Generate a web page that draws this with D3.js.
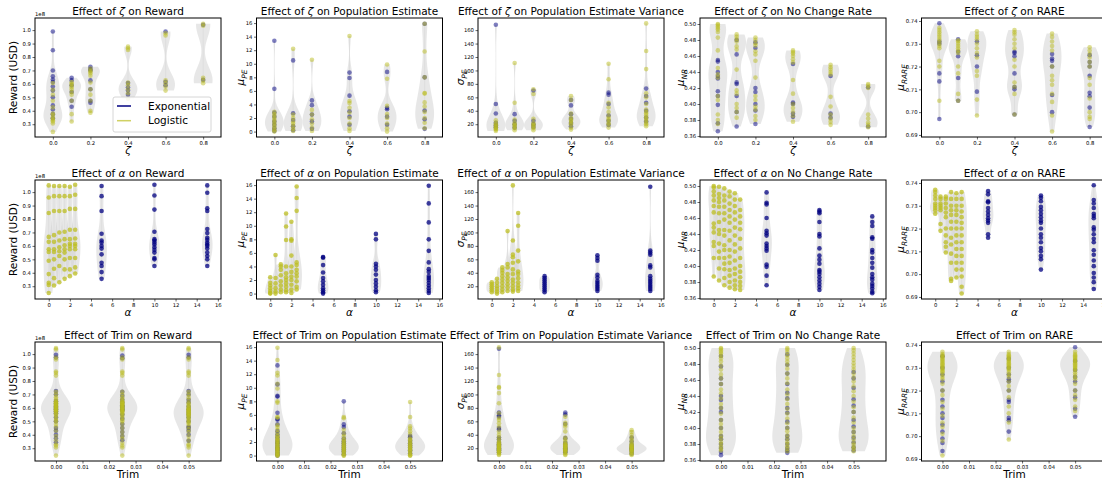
<!DOCTYPE html>
<html>
<head>
<meta charset="utf-8">
<script src="https://cdn.jsdelivr.net/npm/d3@7"></script>
<style>
body { margin: 0; background: #fff; }
svg text { font-family: "DejaVu Sans", sans-serif; fill: #000; }
</style>
</head>
<body>
<svg id="chart" width="1102" height="485"></svg>
<script>
// categories
const zetaCats = [0, 0.1, 0.2, 0.4, 0.6, 0.8];
const alphaCats = [0, 0.5, 1, 1.5, 2, 2.5, 5, 10, 15];
const trimCats = [0, 0.025, 0.05];

// tick labels
const zetaTicks = [0, 0.2, 0.4, 0.6, 0.8];
const alphaTicks = [0, 2, 4, 6, 8, 10, 12, 14, 16];
const trimTicks = [0, 0.01, 0.02, 0.03, 0.04, 0.05];
const rewardTicks = [0.3, 0.4, 0.5, 0.6, 0.7, 0.8, 0.9, 1.0];
const peTicks = [0, 2, 4, 6, 8, 10, 12, 14, 16];
const pevTicks = [20, 40, 60, 80, 100, 120, 140, 160];
const nrTicks = [0.36, 0.38, 0.40, 0.42, 0.44, 0.46, 0.48, 0.50];
const rareTicks = [0.69, 0.70, 0.71, 0.72, 0.73, 0.74];

// ---- reward (x 1e8 USD) ----
const rewardZetaExp = [
  [0.99, 0.85, 0.70, 0.656, 0.633, 0.614, 0.58, 0.55, 0.50, 0.44, 0.41, 0.375, 0.345],
  [0.646, 0.626, 0.59, 0.54, 0.475, 0.43],
  [0.727, 0.71, 0.70, 0.626, 0.56, 0.475, 0.46],
  [0.606, 0.575, 0.55, 0.52],
  [0.99, 0.615, 0.59],
  [1.04, 0.63]
];
const rewardZetaLog = [
  [0.606, 0.556, 0.52, 0.475, 0.425, 0.38, 0.37, 0.35, 0.34, 0.33, 0.32, 0.305, 0.243],
  [0.613, 0.60, 0.59, 0.575, 0.56, 0.54, 0.52, 0.475, 0.375, 0.32],
  [0.714, 0.70, 0.69, 0.68, 0.66, 0.61, 0.56, 0.52, 0.475, 0.40, 0.385],
  [0.877, 0.865, 0.852, 0.61, 0.59, 0.56, 0.53, 0.49],
  [0.977, 0.96, 0.626, 0.605, 0.58, 0.55],
  [1.047, 1.032, 0.646, 0.626, 0.605]
];
const rewardAlphaExp = [[], [], [], [], [], [],
  [1.045, 0.97, 0.86, 0.69, 0.64, 0.625, 0.60, 0.58, 0.537, 0.475, 0.45, 0.405, 0.355],
  [1.055, 0.975, 0.87, 0.705, 0.65, 0.64, 0.625, 0.61, 0.59, 0.57, 0.55, 0.51, 0.50, 0.45],
  [1.05, 0.995, 0.88, 0.86, 0.725, 0.695, 0.66, 0.645, 0.625, 0.61, 0.60, 0.58, 0.55, 0.525, 0.50, 0.45]
];
const rewardAlphaLog = [
  [1.05, 0.96, 0.845, 0.667, 0.63, 0.575, 0.555, 0.49, 0.39, 0.325, 0.31, 0.25],
  [1.045, 0.97, 0.86, 0.68, 0.63, 0.575, 0.555, 0.50, 0.43, 0.36, 0.305],
  [1.045, 0.97, 0.86, 0.70, 0.64, 0.59, 0.56, 0.525, 0.45, 0.33],
  [1.045, 0.97, 0.86, 0.705, 0.65, 0.605, 0.575, 0.55, 0.50, 0.425, 0.355],
  [1.04, 0.97, 0.875, 0.72, 0.65, 0.615, 0.60, 0.575, 0.51, 0.425, 0.375],
  [1.055, 0.98, 0.875, 0.72, 0.655, 0.615, 0.60, 0.575, 0.51, 0.44, 0.395],
  [], [], []
];
const rewardTrimExp = [
  [0.995, 0.975, 0.725, 0.70, 0.65, 0.63, 0.61, 0.60, 0.59, 0.575, 0.56, 0.53, 0.50, 0.45, 0.43, 0.40, 0.375, 0.345],
  [0.99, 0.97, 0.72, 0.69, 0.66, 0.64, 0.62, 0.61, 0.60, 0.59, 0.58, 0.55, 0.52, 0.48, 0.45, 0.42, 0.39, 0.36],
  [0.995, 0.975, 0.725, 0.70, 0.66, 0.64, 0.61, 0.59, 0.57, 0.55, 0.53, 0.50, 0.46, 0.45, 0.43, 0.40, 0.355]
];
const rewardTrimLog = [
  [1.045, 1.035, 0.975, 0.96, 0.87, 0.86, 0.84, 0.72, 0.70, 0.68, 0.665, 0.65, 0.645, 0.64, 0.635, 0.63, 0.625, 0.62, 0.615, 0.61, 0.605, 0.60, 0.595, 0.59, 0.585, 0.58, 0.575, 0.57, 0.56, 0.55, 0.54, 0.525, 0.51, 0.50, 0.48, 0.46, 0.43, 0.39, 0.36, 0.33, 0.32, 0.305, 0.245],
  [1.045, 1.035, 0.975, 0.96, 0.87, 0.86, 0.84, 0.72, 0.70, 0.68, 0.665, 0.65, 0.645, 0.64, 0.635, 0.63, 0.625, 0.62, 0.615, 0.61, 0.605, 0.60, 0.595, 0.59, 0.585, 0.58, 0.575, 0.57, 0.56, 0.55, 0.54, 0.525, 0.51, 0.50, 0.48, 0.45, 0.42, 0.39, 0.37, 0.34, 0.32, 0.305, 0.245],
  [1.045, 1.035, 0.975, 0.96, 0.87, 0.86, 0.84, 0.72, 0.70, 0.68, 0.66, 0.64, 0.63, 0.62, 0.61, 0.60, 0.595, 0.59, 0.585, 0.58, 0.575, 0.57, 0.565, 0.56, 0.555, 0.55, 0.545, 0.54, 0.53, 0.52, 0.51, 0.50, 0.49, 0.48, 0.46, 0.44, 0.42, 0.39, 0.36, 0.33, 0.32, 0.305, 0.245]
];

// ---- population estimate mean ----
const peZetaExp = [
  [13.4, 6.3, 2.8, 2.2, 1.5, 1.0, 0.5, 0.1],
  [10.5, 2.7, 1.7, 0.8, 0.2],
  [4.6, 3.9, 2.5, 1.5, 0.4],
  [8.7, 7.9, 5.3, 3.0, 2.2, 1.0],
  [8.8, 3.5, 3.3, 2.2, 1.0],
  [15.9, 8.0, 3.1, 1.8, 0.4]
];
const peZetaLog = [
  [2.9, 2.6, 2.3, 2.0, 1.7, 1.4, 1.1, 0.8, 0.5, 0.2, 0],
  [12.2, 2.5, 2.0, 1.5, 1.2, 0.8, 0.4, 0.1],
  [10.6, 3.2, 2.5, 1.8, 1.2, 0.6, 0.1],
  [14.1, 4.5, 4.2, 3.5, 2.8, 2.0, 1.2, 0.5, 0.1],
  [9.9, 7.8, 3.8, 2.6, 2.0, 1.2, 0.5, 0],
  [15.9, 11.8, 8.0, 5.7, 5.6, 4.3, 3.7, 2.9, 2.0, 1.3, 0.5]
];
const peAlphaExp = [[], [], [], [], [], [],
  [5.4, 5.3, 4.2, 3.1, 2.3, 1.8, 1.3, 0.8, 0.5, 0.2, 0],
  [8.8, 8.0, 4.4, 4.0, 3.5, 2.8, 2.0, 1.5, 1.0, 0.5, 0.2],
  [15.9, 13.3, 10.5, 8.0, 6.3, 4.6, 3.6, 3.2, 2.6, 2.3, 2.0, 1.6, 1.2, 0.8, 0.4, 0.1]
];
const peAlphaLog = [
  [2.4, 1.6, 1.2, 0.8, 0.4, 0.1, 0],
  [5.7, 2.3, 1.5, 0.8, 0.3, 0],
  [4.3, 4.0, 3.5, 2.7, 1.8, 1.2, 0.6, 0.2],
  [11.8, 9.9, 7.9, 4.0, 3.0, 2.4, 2.0, 1.5, 1.0, 0.5, 0.2],
  [10.6, 8.0, 7.8, 5.6, 4.0, 3.2, 2.5, 2.0, 1.3, 0.6, 0.1],
  [15.8, 14.1, 12.2, 4.6, 4.2, 3.5, 3.0, 2.5, 1.8, 1.0, 0.6],
  [], [], []
];
const peTrimExp = [
  [13.3, 10.5, 8.8, 8.7, 6.3, 5.4, 5.3, 4.6, 3.6, 3.1, 2.7, 2.3, 2.0, 1.8, 1.5, 1.2, 1.0, 0.8, 0.5, 0.2, 0],
  [8.0, 4.6, 4.2, 3.3, 2.5, 2.1, 1.8, 1.5, 1.2, 0.9, 0.6, 0.2],
  [2.9, 2.7, 2.2, 1.8, 1.5, 1.2, 0.8, 0.3]
];
const peTrimLog = [
  [15.9, 14.1, 12.2, 11.8, 10.6, 9.9, 8.0, 7.8, 5.7, 5.6, 4.5, 4.2, 3.8, 3.4, 3.0, 2.8, 2.6, 2.4, 2.3, 2.1, 2.0, 1.8, 1.7, 1.5, 1.4, 1.2, 1.1, 1.0, 0.9, 0.8, 0.6, 0.5, 0.4, 0.2, 0.1, 0, 0],
  [5.7, 5.5, 3.8, 3.2, 2.8, 2.4, 2.2, 2.0, 1.8, 1.6, 1.5, 1.3, 1.2, 1.0, 0.9, 0.7, 0.6, 0.4, 0.2, 0, 0],
  [7.9, 5.7, 4.3, 4.0, 3.6, 3.2, 2.6, 2.4, 2.2, 2.0, 1.8, 1.6, 1.5, 1.3, 1.2, 1.0, 0.9, 0.7, 0.6, 0.3, 0.1, 0, 0]
];

// ---- population estimate variance ----
const pevZetaExp = [
  [168, 50, 36, 22, 18, 15],
  [35, 25, 20, 15],
  [70, 25, 20, 16],
  [56, 48, 35, 28, 22, 17],
  [67, 64, 50, 33, 25, 19],
  [73, 62, 52, 40, 30, 24]
];
const pevZetaLog = [
  [26, 22, 20, 18, 16, 15, 13, 12, 10],
  [111, 52, 27, 22, 20, 18, 16, 14, 11],
  [72, 65, 28, 22, 20, 18, 16, 14, 11],
  [62, 56, 36, 30, 27, 25, 22, 20, 15, 12],
  [110, 87, 52, 45, 38, 32, 28, 26, 22, 20, 15],
  [170, 129, 102, 66, 60, 50, 42, 38, 36, 33, 30, 28, 25, 22, 20, 17]
];
const pevAlphaExp = [[], [], [], [], [], [],
  [35, 32, 29, 26, 23, 20, 17, 14, 11],
  [66, 62, 58, 37, 33, 28, 25, 22, 19, 16, 13],
  [168, 73, 70, 67, 51, 48, 35, 31, 28, 25, 22, 19, 16, 13]
];
const pevAlphaLog = [
  [26, 23, 20, 17, 14, 11],
  [31, 25, 20, 16, 12, 9],
  [48, 44, 40, 35, 30, 25, 20, 15, 11],
  [102, 53, 48, 38, 33, 28, 23, 18, 13],
  [170, 88, 67, 63, 55, 45, 38, 30, 25, 20, 15, 12],
  [129, 110, 73, 57, 42, 38, 32, 26, 21, 17, 13],
  [], [], []
];
const pevTrimExp = [
  [168, 73, 69, 67, 50, 48, 36, 33, 28, 26, 24, 22, 20, 18, 17, 14],
  [73, 70, 56, 35, 28, 25, 22, 20, 18, 16, 14],
  [36, 30, 25, 22, 20, 18, 16, 12]
];
const pevTrimLog = [
  [170, 129, 111, 110, 102, 87, 72, 65, 62, 57, 52, 45, 40, 36, 33, 30, 28, 27, 26, 25, 24, 23, 22, 21, 20, 19, 18, 17, 16, 15, 14, 13, 11, 10],
  [67, 58, 55, 52, 45, 36, 33, 30, 27, 26, 25, 24, 23, 22, 21, 20, 19, 18, 17, 16, 15, 13, 11, 10],
  [47, 44, 40, 36, 33, 30, 27, 25, 24, 23, 22, 21, 20, 19, 18, 17, 16, 15, 13, 11, 10]
];

// ---- no change rate ----
const nrZetaExp = [
  [0.455, 0.453, 0.44, 0.435, 0.432, 0.416, 0.41, 0.399, 0.376, 0.366],
  [0.48, 0.462, 0.427, 0.425, 0.41, 0.39, 0.372],
  [0.477, 0.47, 0.42, 0.415, 0.40, 0.392, 0.375],
  [0.45, 0.402, 0.40, 0.388, 0.384],
  [0.435, 0.388, 0.383],
  [0.421, 0.372]
];
const nrZetaLog = [
  [0.50, 0.499, 0.497, 0.495, 0.493, 0.49, 0.483, 0.467, 0.445, 0.437, 0.433, 0.41, 0.405, 0.387, 0.38, 0.375],
  [0.487, 0.484, 0.481, 0.478, 0.472, 0.468, 0.443, 0.417, 0.413, 0.40, 0.395, 0.39, 0.383],
  [0.483, 0.48, 0.476, 0.473, 0.466, 0.462, 0.454, 0.433, 0.41, 0.405, 0.397, 0.393, 0.385, 0.38],
  [0.467, 0.465, 0.463, 0.46, 0.456, 0.452, 0.43, 0.413, 0.40, 0.395, 0.39, 0.385, 0.378],
  [0.449, 0.446, 0.443, 0.44, 0.437, 0.409, 0.397, 0.387, 0.382, 0.378, 0.374],
  [0.425, 0.423, 0.42, 0.387, 0.382, 0.377, 0.374, 0.371]
];
const nrAlphaExp = [[], [], [], [], [], [],
  [0.492, 0.479, 0.477, 0.46, 0.444, 0.441, 0.438, 0.428, 0.425, 0.422, 0.419, 0.402, 0.399, 0.388, 0.376],
  [0.47, 0.468, 0.466, 0.455, 0.44, 0.437, 0.422, 0.413, 0.408, 0.403, 0.395, 0.393, 0.39, 0.386, 0.382, 0.378, 0.374, 0.37],
  [0.462, 0.455, 0.45, 0.436, 0.434, 0.42, 0.417, 0.41, 0.404, 0.398, 0.39, 0.386, 0.383, 0.378, 0.375, 0.372, 0.368, 0.366]
];
const nrAlphaLog = [
  [0.50, 0.498, 0.493, 0.488, 0.482, 0.475, 0.467, 0.453, 0.448, 0.442, 0.43, 0.425, 0.41, 0.387],
  [0.499, 0.49, 0.485, 0.48, 0.474, 0.466, 0.455, 0.445, 0.44, 0.428, 0.418, 0.41, 0.397, 0.382],
  [0.497, 0.488, 0.482, 0.474, 0.466, 0.458, 0.445, 0.438, 0.426, 0.42, 0.41, 0.403, 0.396, 0.385, 0.376],
  [0.493, 0.487, 0.478, 0.47, 0.462, 0.454, 0.444, 0.432, 0.42, 0.412, 0.404, 0.395, 0.388, 0.38, 0.373],
  [0.491, 0.483, 0.475, 0.467, 0.458, 0.448, 0.438, 0.427, 0.418, 0.407, 0.397, 0.39, 0.382, 0.376, 0.371],
  [0.483, 0.47, 0.462, 0.454, 0.446, 0.434, 0.422, 0.41, 0.40, 0.393, 0.386, 0.38, 0.375, 0.37],
  [], [], []
];
const nrTrimExp = [
  [0.49, 0.477, 0.462, 0.455, 0.44, 0.435, 0.425, 0.42, 0.41, 0.40, 0.39, 0.386, 0.38, 0.375, 0.37, 0.366],
  [0.492, 0.479, 0.468, 0.455, 0.444, 0.437, 0.425, 0.419, 0.408, 0.40, 0.39, 0.386, 0.38, 0.375, 0.372, 0.369],
  [0.47, 0.462, 0.45, 0.436, 0.428, 0.42, 0.41, 0.402, 0.395, 0.388, 0.382, 0.376, 0.372]
];
const nrTrimLog = [
  [0.50, 0.499, 0.497, 0.495, 0.493, 0.49, 0.487, 0.483, 0.478, 0.473, 0.467, 0.462, 0.455, 0.448, 0.443, 0.437, 0.43, 0.425, 0.418, 0.41, 0.405, 0.40, 0.395, 0.39, 0.387, 0.383, 0.38, 0.377, 0.374, 0.372],
  [0.50, 0.498, 0.495, 0.491, 0.487, 0.483, 0.479, 0.474, 0.468, 0.462, 0.456, 0.448, 0.442, 0.436, 0.43, 0.424, 0.418, 0.412, 0.406, 0.40, 0.396, 0.391, 0.387, 0.383, 0.38, 0.377, 0.374, 0.371],
  [0.50, 0.497, 0.493, 0.489, 0.485, 0.481, 0.477, 0.473, 0.468, 0.463, 0.458, 0.452, 0.446, 0.44, 0.433, 0.426, 0.42, 0.413, 0.407, 0.40, 0.395, 0.39, 0.386, 0.382, 0.379, 0.376, 0.374, 0.371]
];

// ---- RARE ----
const rareZetaExp = [
  [0.739, 0.731, 0.730, 0.717, 0.7135, 0.697],
  [0.732, 0.7265, 0.7245, 0.715, 0.705],
  [0.731, 0.725, 0.72, 0.709],
  [0.7265, 0.726, 0.7245, 0.717, 0.711, 0.71, 0.699],
  [0.7255, 0.7235, 0.7225, 0.72, 0.7075, 0.70],
  [0.725, 0.722, 0.72, 0.716, 0.7085, 0.707, 0.702, 0.6935]
];
const rareZetaLog = [
  [0.737, 0.736, 0.735, 0.734, 0.733, 0.732, 0.731, 0.73, 0.729, 0.728, 0.7225, 0.72, 0.705],
  [0.7315, 0.731, 0.73, 0.729, 0.728, 0.727, 0.726, 0.72, 0.717, 0.708, 0.705],
  [0.7355, 0.734, 0.733, 0.732, 0.73, 0.728, 0.726, 0.724, 0.718, 0.716, 0.7055, 0.6985],
  [0.736, 0.735, 0.734, 0.732, 0.73, 0.728, 0.723, 0.72, 0.713, 0.711, 0.708, 0.699],
  [0.7345, 0.733, 0.731, 0.729, 0.727, 0.72, 0.716, 0.714, 0.712, 0.708, 0.7045, 0.6985, 0.6915],
  [0.7285, 0.727, 0.7255, 0.724, 0.722, 0.72, 0.715, 0.712, 0.706, 0.70, 0.698, 0.697]
];
const rareAlphaExp = [[], [], [], [], [], [],
  [0.7365, 0.735, 0.732, 0.7315, 0.729, 0.7275, 0.726, 0.7245, 0.7235, 0.7225, 0.7175, 0.716],
  [0.7345, 0.7335, 0.732, 0.7295, 0.728, 0.7265, 0.725, 0.7235, 0.7225, 0.72, 0.7175, 0.716, 0.714, 0.7115, 0.71, 0.708, 0.7065, 0.702],
  [0.739, 0.7325, 0.731, 0.729, 0.7265, 0.7255, 0.7245, 0.7205, 0.7195, 0.7175, 0.7155, 0.714, 0.7105, 0.7085, 0.706, 0.7035, 0.7005, 0.6985, 0.6965, 0.6935]
];
const rareAlphaLog = [
  [0.737, 0.736, 0.7345, 0.733, 0.731, 0.73, 0.729, 0.728, 0.7265],
  [0.734, 0.733, 0.731, 0.73, 0.729, 0.728, 0.722, 0.719],
  [0.734, 0.733, 0.731, 0.729, 0.727, 0.725, 0.72, 0.717, 0.714, 0.712, 0.7095],
  [0.736, 0.733, 0.73, 0.728, 0.726, 0.723, 0.72, 0.716, 0.713, 0.709, 0.705, 0.698, 0.697],
  [0.7355, 0.733, 0.73, 0.728, 0.726, 0.723, 0.72, 0.717, 0.714, 0.711, 0.708, 0.705, 0.702, 0.6985],
  [0.736, 0.733, 0.73, 0.7275, 0.725, 0.7225, 0.72, 0.717, 0.714, 0.711, 0.708, 0.705, 0.702, 0.699, 0.6945, 0.6915],
  [], [], []
];
const rareTrimExp = [
  [0.735, 0.73, 0.727, 0.724, 0.72, 0.716, 0.713, 0.71, 0.708, 0.705, 0.702, 0.699, 0.697, 0.6935],
  [0.734, 0.73, 0.727, 0.725, 0.724, 0.72, 0.716, 0.715, 0.708, 0.707, 0.702],
  [0.739, 0.733, 0.729, 0.726, 0.724, 0.72, 0.717, 0.712, 0.7085]
];
const rareTrimLog = [
  [0.737, 0.736, 0.7355, 0.735, 0.7345, 0.734, 0.7335, 0.733, 0.7325, 0.732, 0.7315, 0.731, 0.7305, 0.73, 0.7295, 0.729, 0.7285, 0.728, 0.727, 0.726, 0.725, 0.723, 0.72, 0.718, 0.715, 0.712, 0.709, 0.706, 0.704, 0.701, 0.698, 0.6915],
  [0.737, 0.736, 0.7355, 0.735, 0.7345, 0.734, 0.7335, 0.733, 0.7325, 0.732, 0.7315, 0.731, 0.7305, 0.73, 0.7295, 0.729, 0.728, 0.727, 0.726, 0.724, 0.722, 0.72, 0.717, 0.713, 0.71, 0.706, 0.6985],
  [0.737, 0.736, 0.7355, 0.735, 0.7345, 0.734, 0.7335, 0.733, 0.7325, 0.732, 0.7315, 0.731, 0.7305, 0.73, 0.7295, 0.729, 0.728, 0.727, 0.726, 0.725, 0.723, 0.72, 0.718, 0.716, 0.713, 0.711]
];

// ---------- layout / config ----------
const colX = [35, 256.5, 478, 700, 921.5];
const rowY = [18, 180, 342];
const W = 186, H = 119;
const expColor = "#000080", logColor = "#bcbd22";

const factors = [
  { label: [{ t: "ζ", i: true }], cats: zetaCats, ticks: zetaTicks, fmt: d3.format(".1f"),
    domain: [-0.095, 0.895], width: 0.1, op: 0.5, bw: 0.65 },
  { label: [{ t: "α", i: true }], cats: alphaCats, ticks: alphaTicks, fmt: d3.format("d"),
    domain: [-1.3, 16.3], width: 1, op: 0.75, bw: 0.75 },
  { label: [{ t: "Trim" }], cats: trimCats, ticks: trimTicks, fmt: d3.format(".2f"),
    domain: [-0.0079, 0.0622], width: 0.0113, op: 0.5, bw: 0.9 }
];
const metrics = [
  { name: "Reward", ticks: rewardTicks, fmt: d3.format(".1f"), domain: [0.205, 1.09], offset: "1e8", lx: 22,
    label: [{ t: "Reward (USD)" }], data: [[rewardZetaExp, rewardZetaLog], [rewardAlphaExp, rewardAlphaLog], [rewardTrimExp, rewardTrimLog]] },
  { name: "Population Estimate", ticks: peTicks, fmt: d3.format("d"), domain: [-0.8, 16.75], lx: 16.5,
    label: [{ t: "μ", i: true }, { t: "PE", i: true, sub: true }], data: [[peZetaExp, peZetaLog], [peAlphaExp, peAlphaLog], [peTrimExp, peTrimLog]] },
  { name: "Population Estimate Variance", ticks: pevTicks, fmt: d3.format("d"), domain: [1, 178], lx: 17.5,
    label: [{ t: "σ", i: true }, { t: "PE", i: true, sub: true }], data: [[pevZetaExp, pevZetaLog], [pevAlphaExp, pevAlphaLog], [pevTrimExp, pevTrimLog]] },
  { name: "No Change Rate", ticks: nrTicks, fmt: d3.format(".2f"), domain: [0.3588, 0.5075], lx: 20,
    label: [{ t: "μ", i: true }, { t: "NR", i: true, sub: true }], data: [[nrZetaExp, nrZetaLog], [nrAlphaExp, nrAlphaLog], [nrTrimExp, nrTrimLog]] },
  { name: "RARE", ticks: rareTicks, fmt: d3.format(".2f"), domain: [0.6891, 0.7413], lx: 21,
    label: [{ t: "μ", i: true }, { t: "RARE", i: true, sub: true }], data: [[rareZetaExp, rareZetaLog], [rareAlphaExp, rareAlphaLog], [rareTrimExp, rareTrimLog]] }
];

const svg = d3.select("#chart");

function addParts(text, parts, size) {
  parts.forEach(p => {
    const ts = text.append("tspan").text(p.t);
    if (p.i) ts.style("font-style", "italic");
    if (p.sub) ts.attr("dy", size * 0.3).style("font-size", (size * 0.7) + "px");
  });
}

// gaussian kde over [min, max], Scott bandwidth times a factor
function kde(vals, scale) {
  const n = vals.length, sd = d3.deviation(vals);
  const bw = scale * sd * Math.pow(n, -0.2);
  const lo = d3.min(vals), hi = d3.max(vals);
  return d3.range(100).map(i => {
    const v = lo + (hi - lo) * i / 99;
    return [v, d3.mean(vals, d => Math.exp(-0.5 * ((v - d) / bw) ** 2))];
  });
}

factors.forEach((f, r) => {
  metrics.forEach((m, c) => {
    const x0 = colX[c], y0 = rowY[r];
    const g = svg.append("g").attr("transform", `translate(${x0},${y0})`);
    const x = d3.scaleLinear().domain(f.domain).range([0, W]);
    const y = d3.scaleLinear().domain(m.domain).range([H, 0]);
    const [expD, logD] = m.data[r];

    // violins
    f.cats.forEach((cat, i) => {
      const vals = expD[i].concat(logD[i]);
      if (vals.length < 2) return;
      const dens = kde(vals, f.bw);
      const mx = d3.max(dens, d => d[1]);
      const half = d => (f.width / 2) * d[1] / mx;
      g.append("path")
        .datum(dens)
        .attr("d", d3.area()
          .y(d => y(d[0]))
          .x0(d => x(cat - half(d)))
          .x1(d => x(cat + half(d))))
        .attr("fill", "#cfcfcf").attr("fill-opacity", 0.5);
      g.append("line")
        .attr("x1", x(cat)).attr("x2", x(cat))
        .attr("y1", y(d3.min(vals))).attr("y2", y(d3.max(vals)))
        .attr("stroke", "#d0d0d0").attr("stroke-width", 0.6).attr("stroke-opacity", 0.6);
    });

    // points
    [[expD, expColor], [logD, logColor]].forEach(([series, col]) => {
      const pts = [];
      f.cats.forEach((cat, i) => series[i].forEach(v => pts.push([cat, v])));
      g.append("g").selectAll("circle").data(pts).join("circle")
        .attr("cx", d => x(d[0])).attr("cy", d => y(d[1])).attr("r", 2.3)
        .attr("fill", col).attr("fill-opacity", f.op);
    });

    // frame
    g.append("rect").attr("width", W).attr("height", H)
      .attr("fill", "none").attr("stroke", "#000").attr("stroke-width", 1);

    // axes
    const ax = g.append("g").attr("transform", `translate(0,${H})`)
      .call(d3.axisBottom(x).tickValues(f.ticks).tickFormat(f.fmt).tickSize(2.5).tickPadding(1.5));
    const ay = g.append("g")
      .call(d3.axisLeft(y).tickValues(m.ticks).tickFormat(m.fmt).tickSize(2.5).tickPadding(1.5));
    [ax, ay].forEach(a => {
      a.select(".domain").remove();
      a.selectAll("text").style("font-size", "5.3px").attr("font-family", null);
      a.selectAll("line").attr("stroke-width", 0.6);
    });

    if (m.offset) {
      g.append("text").attr("x", 0).attr("y", -2.5).style("font-size", "5.3px").text(m.offset);
    }

    // title
    const t = g.append("text").attr("x", W / 2).attr("y", -3.5)
      .attr("text-anchor", "middle").style("font-size", "10.5px");
    t.append("tspan").text("Effect of ");
    addParts(t, f.label, 10.5);
    t.append("tspan").text(" on " + m.name);

    // x label
    const xl = g.append("text").attr("x", W / 2).attr("y", H + 17)
      .attr("text-anchor", "middle").style("font-size", "10.5px");
    addParts(xl, f.label, 10.5);

    // y label
    const yl = g.append("text")
      .attr("transform", `translate(${-m.lx + 3.5},${H / 2}) rotate(-90)`)
      .attr("text-anchor", "middle").style("font-size", "10.5px");
    addParts(yl, m.label, 10.5);
  });
});

// legend in the first panel
const lg = svg.append("g").attr("transform", "translate(113,97)");
lg.append("rect").attr("width", 98).attr("height", 35).attr("rx", 2)
  .attr("fill", "#fff").attr("fill-opacity", 0.85).attr("stroke", "#cccccc").attr("stroke-width", 0.8);
[["Exponential", expColor, 1], ["Logistic", logColor, 0.7]].forEach(([name, col, op], i) => {
  const yy = 9 + i * 14.7;
  lg.append("line").attr("x1", 4).attr("x2", 18).attr("y1", yy).attr("y2", yy)
    .attr("stroke", col).attr("stroke-opacity", op).attr("stroke-width", 1.5);
  lg.append("text").attr("x", 35).attr("y", yy + 3.6).style("font-size", "10.5px").text(name);
});
</script>
</body>
</html>
